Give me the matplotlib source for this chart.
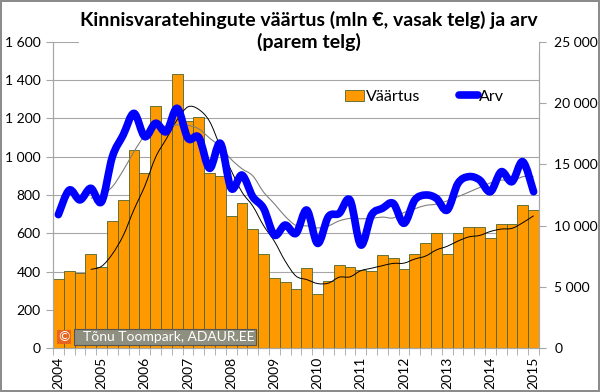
import matplotlib.pyplot as plt
import numpy as np
import pandas as pd
from matplotlib.path import Path
from matplotlib.patches import PathPatch

plt.rcParams['font.family'] = ['Lato', 'DejaVu Sans']

# quarterly, 2004 Q1 .. 2015 Q1
years = list(range(2004, 2016))
vaartus = [360, 405, 390, 490, 425, 662, 774, 1035, 915, 1264, 1163, 1431,
           1185, 1210, 913, 899, 692, 757, 621, 491, 364, 343, 308, 417,
           281, 352, 432, 424, 410, 404, 485, 472, 415, 490, 547, 600,
           491, 600, 633, 631, 574, 650, 648, 749, 720]
arv = [10900, 12900, 12100, 13050, 11950, 15630, 17400, 19170, 17270, 18360,
       17680, 19580, 17130, 17210, 14680, 16720, 13050, 14130, 12360, 11410,
       9230, 10050, 9370, 11270, 8550, 10730, 11000, 12090, 8420, 10870,
       11410, 11820, 10190, 12090, 12500, 12230, 11270, 13450, 14000, 13730,
       12770, 14400, 13590, 15220, 12770]

x = np.arange(len(vaartus))
vaartus_ma = pd.Series(vaartus).rolling(4).mean()
arv_ma = pd.Series(arv).rolling(4).mean()


def fmt(v):
    return f"{int(v):,}".replace(",", " ")


def smooth_line(ax, xs, ys, **kw):
    # excel-style smoothed line: bezier segments through the points
    m = ~np.isnan(np.asarray(ys, dtype=float))
    p = np.column_stack([np.asarray(xs, float)[m], np.asarray(ys, float)[m]])
    verts = [p[0]]
    codes = [Path.MOVETO]
    for i in range(len(p) - 1):
        p0 = p[i - 1] if i > 0 else p[i]
        p3 = p[i + 2] if i + 2 < len(p) else p[i + 1]
        c1 = p[i] + (p[i + 1] - p0) / 6
        c2 = p[i + 1] - (p3 - p[i]) / 6
        verts += [c1, c2, p[i + 1]]
        codes += [Path.CURVE4] * 3
    patch = PathPatch(Path(verts, codes), facecolor='none', **kw)
    ax.add_patch(patch)
    return patch


fig = plt.figure(figsize=(6, 3.92), dpi=100)
fig.patch.set_edgecolor('#8c8c8c')
fig.patch.set_linewidth(1.5)
ax = fig.add_axes([0.0883, 0.112, 0.810, 0.781])
ax2 = ax.twinx()

ax.bar(x, vaartus, width=1.0, color='#ff9900', edgecolor='#4f6228',
       linewidth=0.6, label='Väärtus', zorder=2)
smooth_line(ax, x, vaartus_ma, edgecolor='black', lw=0.7, zorder=3)
smooth_line(ax2, x, arv_ma, edgecolor='#7f7f7f', lw=0.8, zorder=3)
smooth_line(ax2, x, arv, edgecolor='#0000ff', lw=5.5, capstyle='round',
            joinstyle='round', zorder=4)
arv_handle = plt.Line2D([], [], color='#0000ff', lw=5.5,
                        solid_capstyle='round', label='Arv')

ax.set_xlim(-0.5, len(x) - 0.5)
ax.set_ylim(0, 1600)
ax2.set_ylim(0, 25000)

ax.set_yticks(range(0, 1601, 200))
ax.set_yticklabels([fmt(v) for v in range(0, 1601, 200)])
ax2.set_yticks(range(0, 25001, 5000))
ax2.set_yticklabels([fmt(v) for v in range(0, 25001, 5000)])
ax.yaxis.grid(True, color='#a6a6a6', lw=0.8, zorder=0)
ax.set_axisbelow(True)

ax.set_xticks(x[::4])
ax.set_xticklabels([str(y) for y in years], rotation=90)
ax.set_xticks(np.arange(-0.5, len(x), 1), minor=True)
ax.tick_params(axis='x', which='major', length=0, pad=6)
ax.tick_params(axis='x', which='minor', length=5, color='#a6a6a6')
ax.tick_params(axis='y', length=5, color='#a6a6a6', pad=4)
ax2.tick_params(axis='y', length=5, color='#a6a6a6', pad=6)
for a in (ax, ax2):
    a.tick_params(labelsize=10, labelcolor='black')
    for s in a.spines.values():
        s.set_color('#a6a6a6')
    a.spines['top'].set_visible(False)

h1, l1 = ax.get_legend_handles_labels()
fig.legend(h1 + [arv_handle], l1 + ['Arv'], loc='center',
           bbox_to_anchor=(0.708, 0.753), ncol=2, frameon=False,
           fontsize=11.5, handlelength=1.2, handletextpad=0.1,
           columnspacing=2.4)

fig.text(0.515, 0.921, 'Kinnisvaratehingute väärtus (mln €, vasak telg) ja arv\n(parem telg)',
         ha='center', va='center', fontsize=14, fontweight='bold',
         linespacing=1.22,
         bbox=dict(facecolor='white', edgecolor='none', pad=1))

ax.text(1.6, 58, '  Tõnu Toompark, ADAUR.EE', fontsize=10, color='white',
        va='center', ha='left', zorder=6,
        bbox=dict(facecolor='#8f8f80', edgecolor='#555555', pad=1.5, lw=0.8))
ax.text(0.0, 58, '©', fontsize=10, color='white', va='center', ha='left',
        zorder=7, bbox=dict(facecolor='#e8641e', edgecolor='none', pad=1))

fig.savefig('out.png', dpi=100)
